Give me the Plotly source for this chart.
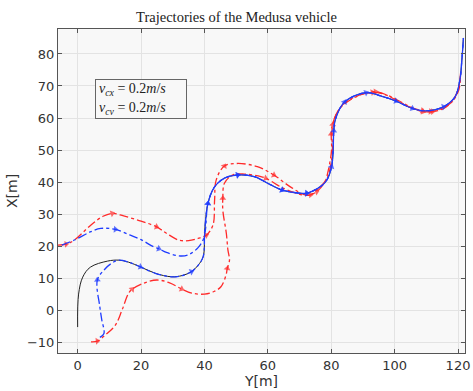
import plotly.graph_objects as go

# horizontal axis = Y[m], vertical axis = X[m]
ref_Y = [0, 0.3, 1.6, 4, 9.4, 13, 16, 19.8, 24.5, 29.6, 33, 35.9, 38, 39.6, 40.1, 41.1, 43.2, 46.3, 50.5, 55.7,
         60, 64.5, 70.2, 72.3, 76.5, 78.6, 80.1, 80.6, 80.8, 81.3, 84.2, 91, 96.2, 100.4, 105.6, 109.7, 115.4,
         119.1, 120.6, 121.2, 121.7]
ref_X = [-5.3, 5, 10.3, 13.4, 15.3, 15.6, 15, 13.5, 11.5, 10.4, 10.8, 12, 14, 16.7, 25, 33.3, 38.5, 41.2, 42.2, 41.7,
         39.6, 37.5, 36.5, 36.5, 38.5, 40.6, 44.8, 50, 56, 59.5, 65, 67.9, 66.7, 65.3, 63, 62.2, 63.5,
         66.7, 72, 78, 85]

blue1_Y = [7, 8.3, 7.6, 7, 6.2, 8.3, 10.5, 13, 16, 19.8, 24.5, 29.6, 33, 35.9, 38, 39.6, 40.1, 41.1, 43.2, 46.3,
           50.5, 55.7, 60, 64.5, 70.2, 72.3, 76.5, 78.6, 80.1, 80.6, 80.8, 81.3, 84.2, 91, 96.2, 100.4, 105.6,
           109.7, 115.4, 119.1, 120.6, 121.2, 121.7]
blue1_X = [-8.5, -7.3, -3, 1, 9.4, 12.5, 14.5, 15.6, 15, 13.5, 11.5, 10.4, 10.8, 12, 14, 16.7, 25, 33.3, 38.5, 41.2,
           42.2, 41.7, 39.6, 37.5, 36.5, 36.5, 38.5, 40.6, 44.8, 50, 56, 59.5, 65, 67.9, 66.7, 65.3, 63,
           62.2, 63.5, 66.7, 72, 78, 85]
blue1_arrows = [4, 9, 13, 17, 20, 23, 25, 28, 30, 32, 33, 35, 36, 38]

blue2_Y = [-5, -1, 4.2, 7.3, 11.9, 16.6, 20, 23.9, 25.6, 28, 32.4, 35, 38, 39.6, 40.3, 41.1, 43.2, 46.3, 50.5,
           55.7, 60, 64.5, 70.2, 72.3, 76.5, 78.6, 80.1, 80.6, 80.8, 81.3, 84.2, 91, 96.2, 100.4, 105.6, 109.7,
           115.4, 119.1, 120.6, 121.2, 121.7]
blue2_X = [20.3, 21.9, 24.5, 25.5, 25.2, 23.4, 22, 19.8, 19.2, 18, 16.9, 17.3, 19.5, 22, 25, 33.3, 38.5, 41.2, 42.2,
           41.7, 39.6, 37.5, 36.5, 36.5, 38.5, 40.6, 44.8, 50, 56, 59.5, 65, 67.9, 66.7, 65.3, 63, 62.2,
           63.5, 66.7, 72, 78, 85]
blue2_arrows = [4, 8, 15, 18, 21, 23]

red1_Y = [4.2, 6.2, 8.7, 11.9, 14, 16.1, 17.2, 20.8, 25, 29, 32.8, 36, 40, 43, 45.2, 46.8, 47.2, 47.9, 47.4, 46.9,
          45.8, 45.8, 46.3, 48.9, 52.6, 57.8, 59.3, 61, 65, 71.3, 73.5, 76, 78.6, 79.8, 80.4, 80.2, 80.5, 82,
          85, 90, 94, 98, 102, 106, 108.7, 111.3, 115, 118.5, 120.3, 120.8]
red1_X = [-9.9, -9.7, -7.8, -4.7, 0, 5.3, 6.5, 8.4, 9.4, 8.5, 6.6, 5.3, 5, 5.8, 7.3, 10.9, 13, 15.6, 18.8, 24,
          31.2, 34.9, 39.6, 42.2, 42.5, 41.7, 41.2, 40.3, 38, 35.9, 36, 38, 41, 45, 50, 55, 58, 62,
          65, 67.5, 68.2, 67, 65, 63, 62.3, 62, 63, 65.5, 69, 73]
red1_arrows = [0, 1, 6, 10, 16, 21, 26, 30, 36, 40, 44, 45]

red2_Y = [-6.2, -3.6, -1, 4.2, 8, 10.9, 14.5, 20, 24.9, 28, 31.8, 35, 38, 40.6, 42.7, 43.2, 43.7, 46.3, 50.5, 56.7,
          61.9, 67.1, 72.3, 75.4, 78, 79.1, 80.1, 80, 80.3, 81.5, 84, 88, 93, 97, 101, 105, 109, 112, 115.5,
          118.5, 120.2, 120.8]
red2_X = [20.3, 20.6, 21.9, 26.6, 29.3, 30.2, 29.4, 27.8, 26, 24, 21.9, 21.7, 22.4, 23.4, 26.6, 34.4, 40.6, 45, 45.8,
          44.8, 42.2, 38.5, 35.9, 37, 40.1, 43.8, 50, 55, 57.5, 61, 64.5, 66.8, 68, 67.3, 65.3, 63.3, 62, 62,
          63, 65.7, 69.5, 74]
red2_arrows = [0, 1, 5, 8, 13, 17, 20, 23, 27, 32, 36, 37]

BLUE = "#1f3cff"
RED = "#ff2a2a"


def sizes(n, idx, s=6):
    return [s if i in idx else 0 for i in range(n)]


fig = go.Figure()
fig.add_trace(go.Scatter(x=ref_Y, y=ref_X, mode="lines", line=dict(color="#222222", width=1, shape="spline"),
                         showlegend=False))
for xs, ys, arr, col in [(red1_Y, red1_X, red1_arrows, RED), (red2_Y, red2_X, red2_arrows, RED),
                         (blue1_Y, blue1_X, blue1_arrows, BLUE), (blue2_Y, blue2_X, blue2_arrows, BLUE)]:
    fig.add_trace(go.Scatter(
        x=xs, y=ys, mode="lines+markers",
        line=dict(color=col, width=1.3, dash="dashdot", shape="spline"),
        marker=dict(symbol="triangle-up", size=sizes(len(xs), arr), color=col, angleref="previous",
                    line=dict(width=0)),
        showlegend=False))

axis_common = dict(showgrid=True, gridcolor="#e3e3e3", gridwidth=1, zeroline=False,
                   showline=True, linecolor="#555555", linewidth=1, mirror="ticks",
                   ticks="inside", ticklen=4, tickcolor="#555555",
                   tickfont=dict(family="DejaVu Sans", size=13, color="#333333"))

fig.update_layout(
    width=473, height=391,
    margin=dict(l=58, r=3, t=29, b=38),
    paper_bgcolor="white", plot_bgcolor="#f8f8f8",
    title=dict(text="Trajectories of the Medusa vehicle", x=0.5, xanchor="center", y=0.957, yanchor="middle",
               font=dict(family="Liberation Serif", size=14.5, color="#222222")),
    xaxis=dict(range=[-6.2, 122.2], tickvals=[0, 20, 40, 60, 80, 100, 120], ticklabeloverflow="allow",
               title=dict(text="Y[m]", standoff=2, font=dict(family="DejaVu Sans", size=14, color="#333333")),
               **axis_common),
    yaxis=dict(range=[-13.4, 87.8], tickvals=[-10, 0, 10, 20, 30, 40, 50, 60, 70, 80],
               title=dict(text="X[m]", standoff=6, font=dict(family="DejaVu Sans", size=14, color="#333333")),
               **axis_common),
    annotations=[dict(
        x=0.09, y=0.785, xref="paper", yref="paper", xanchor="left", yanchor="middle", align="left",
        width=84, height=32,
        text="<i>v</i><sub><i>cx</i></sub> = 0.2<i>m</i>/<i>s</i><br><i>v</i><sub><i>cy</i></sub> = 0.2<i>m</i>/<i>s</i>",
        showarrow=False, font=dict(family="Liberation Serif", size=14, color="#222222"),
        bordercolor="#666666", borderwidth=1, borderpad=3, bgcolor="#f8f8f8")],
)

fig.write_html("out.html")
